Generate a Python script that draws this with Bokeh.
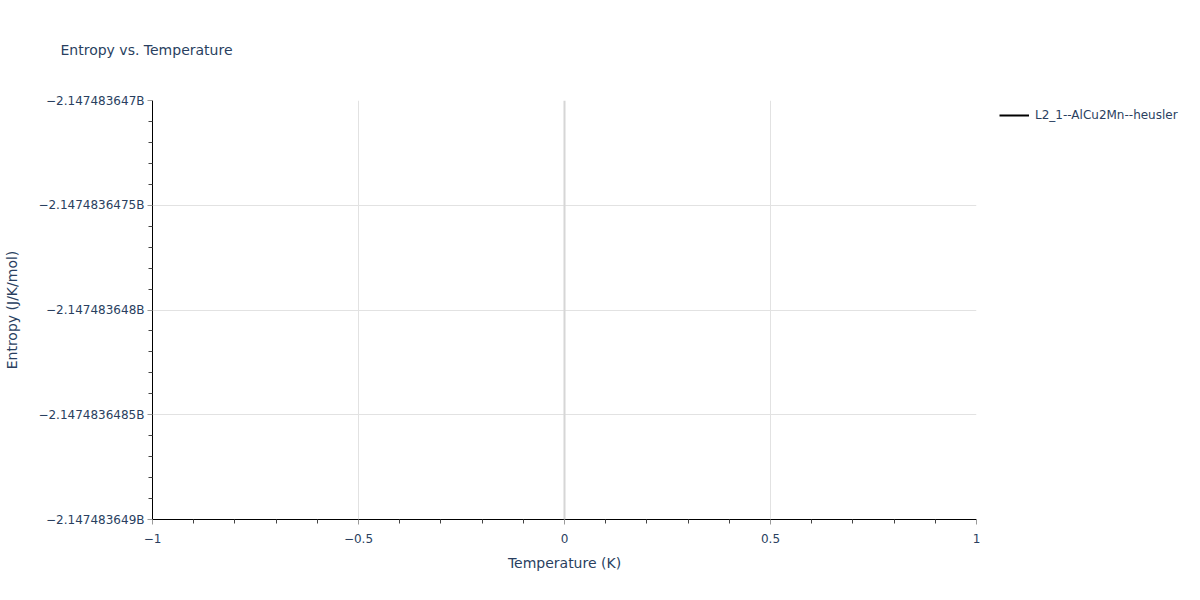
import numpy as np
from bokeh.plotting import figure
from bokeh.models import (ColumnDataSource, FixedTicker, CustomJSTickFormatter,
                          Legend, LegendItem, Span, Range1d, Title)
from bokeh.embed import file_html
from bokeh.resources import INLINE

# ---- data ----
series_name = "L2_1--AlCu2Mn--heusler"
temperature = [0.0]
entropy = [-2147483648.0]

x_ticks = [-1.0, -0.5, 0.0, 0.5, 1.0]
x_labels = ["\u22121", "\u22120.5", "0", "0.5", "1"]
y_ticks = [-2147483649.0, -2147483648.5, -2147483648.0, -2147483647.5, -2147483647.0]
y_labels = ["\u22122.147483649B", "\u22122.1474836485B", "\u22122.147483648B",
            "\u22122.1474836475B", "\u22122.147483647B"]

title_text = "Entropy vs. Temperature"
x_title = "Temperature (K)"
y_title = "Entropy (J/K/mol)"

TXT = "#2a3f5f"
FONT = "DejaVu Sans"

src = ColumnDataSource(data=dict(x=temperature, y=entropy))

p = figure(frame_width=824, frame_height=419, output_backend="svg", toolbar_location=None,
           x_range=Range1d(x_ticks[0], x_ticks[-1]),
           y_range=Range1d(y_ticks[0], y_ticks[-1]),
           min_border_left=152, min_border_right=0,
           min_border_top=100, min_border_bottom=65)
p.title.text = ""
p.outline_line_color = None

t = Title(text=title_text, align="left", offset=-92, standoff=82,
          vertical_align="top",
          text_font=FONT, text_font_size="14px", text_color=TXT,
          text_font_style="normal")
p.add_layout(t, "above")

r = p.line("x", "y", source=src, line_color="black", line_width=2)

def fmt(vals, labels):
    return CustomJSTickFormatter(args=dict(vals=vals, labels=labels), code="""
        let best = 0, bd = Infinity;
        for (let i = 0; i < vals.length; i++) {
            const d = Math.abs(vals[i] - tick);
            if (d < bd) { bd = d; best = i; }
        }
        return labels[best];
    """)

x_minor = [v for v in np.round(np.arange(-1.0, 1.0001, 0.1), 6).tolist() if v not in x_ticks]
y_minor = [y_ticks[0] + k * 0.1 for k in range(21) if k % 5 != 0]

xa = p.xaxis[0]
xa.ticker = FixedTicker(ticks=x_ticks, minor_ticks=x_minor)
xa.formatter = fmt(x_ticks, x_labels)
ya = p.yaxis[0]
ya.ticker = FixedTicker(ticks=y_ticks, minor_ticks=y_minor)
ya.formatter = fmt(y_ticks, y_labels)

for ax, lab in ((xa, x_title), (ya, y_title)):
    ax.axis_label = lab
    ax.axis_label_text_font = FONT
    ax.axis_label_text_font_size = "14px"
    ax.axis_label_text_font_style = "normal"
    ax.axis_label_text_color = TXT
    ax.major_label_text_font = FONT
    ax.major_label_text_font_size = "12px"
    ax.major_label_text_color = TXT
    ax.axis_line_color = "black"
    ax.axis_line_width = 1
    ax.major_tick_line_color = "#9a9a9a"
    ax.major_tick_in = 0
    ax.major_tick_out = 5
    ax.minor_tick_line_color = "#444444"
    ax.minor_tick_in = 0
    ax.minor_tick_out = 4

xa.major_label_standoff = 9
xa.axis_label_standoff = 9
ya.major_label_standoff = 3
ya.axis_label_standoff = 15

p.xgrid.ticker = FixedTicker(ticks=[-0.5, 0.5])
p.ygrid.ticker = FixedTicker(ticks=y_ticks[1:-1])
for g in (p.xgrid, p.ygrid):
    g.grid_line_color = "#e2e2e2"
    g.grid_line_width = 1

p.add_layout(Span(location=0, dimension="height", line_color="#d6d6d6", line_width=2))

legend = Legend(items=[LegendItem(label=series_name, renderers=[r])],
                location=(23, 396), margin=0, padding=0,
                border_line_color=None, background_fill_alpha=0,
                glyph_width=30, glyph_height=16, label_height=16,
                label_standoff=6, label_text_font=FONT,
                label_text_font_size="12px", label_text_color=TXT)
p.add_layout(legend, "right")

open("out.html", "w").write(file_html(p, INLINE))
